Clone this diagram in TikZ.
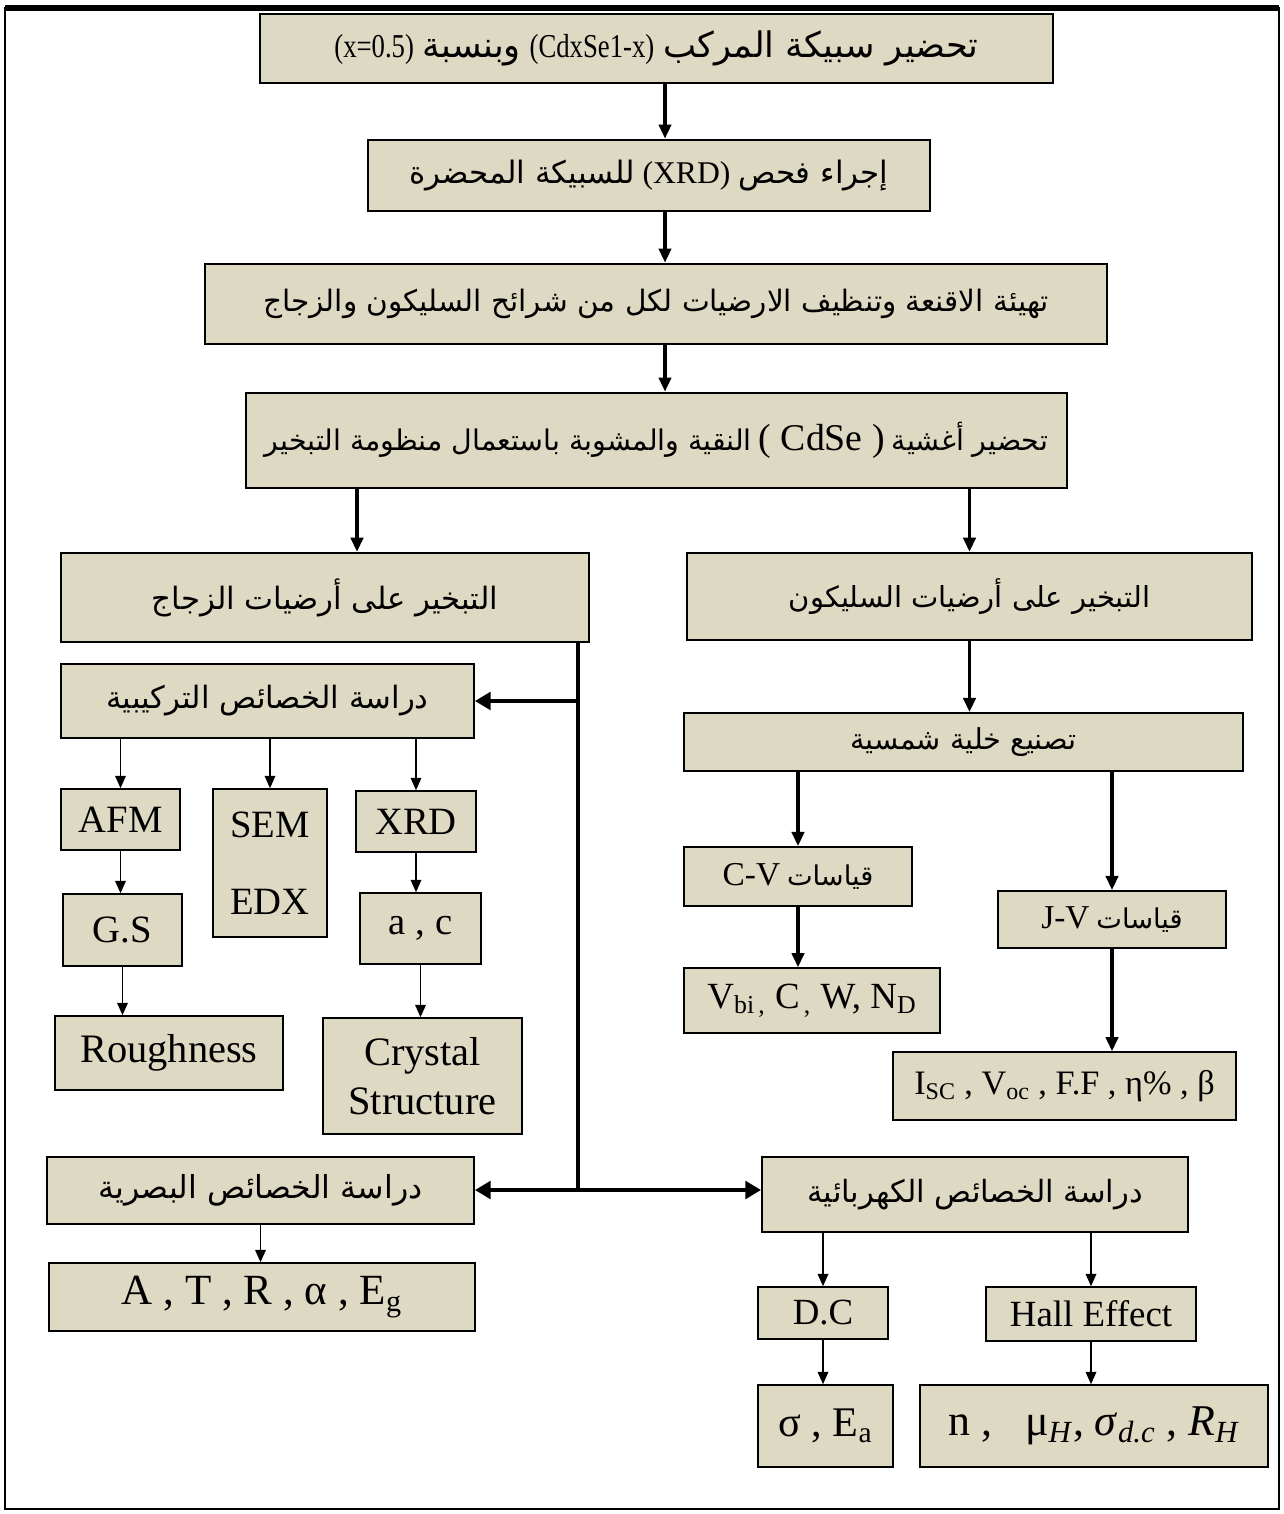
\documentclass[tikz,border=0pt]{standalone}
\usepackage{graphicx}
\usepackage{fontspec}
\setmainfont{Liberation Serif}
\newfontfamily\arabicfont[Script=Arabic]{DejaVu Sans}
\TeXXeTstate=1
\usetikzlibrary{arrows.meta}
\definecolor{boxfill}{RGB}{221,217,195}
\newcommand{\artxt}[1]{{\arabicfont #1}}
\newcommand{\narrow}[1]{\scalebox{0.8}[1]{#1}}

\begin{document}
\begin{tikzpicture}[x=0.02cm, y=-0.02cm, box/.style={rectangle, draw, fill=boxfill, line width=1.1pt, inner sep=0pt, align=center}, bigbox/.style={box, line width=1.6pt}, arbox/.style={box, font=\fontsize{17.5}{21}\selectfont}, latbox/.style={box, line width=0.9pt, font=\fontsize{22}{28}\selectfont}, flow/.style={-{Triangle[length=8pt, width=7pt]}, line width=1.8pt}, subflow/.style={-{Triangle[length=7pt, width=6pt]}, line width=0.9pt}, trunk/.style={line width=2.8pt}, branch/.style={-{Triangle[length=9pt, width=10pt]}, line width=2.8pt}]
	\useasboundingbox (0,0) rectangle (1284,1514);
	\draw[line width=1.6pt] (5,8) rectangle (1279,1509);
	\draw[line width=3pt] (5,8) -- (1279,8);

	% nodes
	\node[bigbox, font=\fontsize{20}{24}\selectfont, minimum width=15.86cm, minimum height=1.38cm] (prep) at (656.5,48.5) {\beginR\artxt{تحضير سبيكة المركب} \beginL{\fontsize{19}{24}\selectfont\narrow{(CdxSe1-x)}}\endL{} \artxt{وبنسبة} \beginL{\fontsize{19}{24}\selectfont\narrow{(x=0.5)}}\endL\endR}; %
	\node[bigbox, font=\fontsize{17.6}{21}\selectfont, minimum width=11.24cm, minimum height=1.42cm] (xrdtest) at (649,175.5) {\beginR\artxt{إجراء فحص} \beginL{\fontsize{18}{21}\selectfont(XRD)}\endL{} \artxt{للسبيكة المحضرة}\endR}; %
	\node[bigbox, font=\fontsize{16.8}{21}\selectfont, minimum width=18.04cm, minimum height=1.6cm] (masks) at (656,304) {\beginR\artxt{تهيئة الاقنعة وتنظيف الارضيات لكل من شرائح السليكون والزجاج}\endR}; %
	\node[bigbox, font=\fontsize{16.2}{21}\selectfont, minimum width=16.42cm, minimum height=1.9cm] (films) at (656.5,440.5) {\beginR\artxt{تحضير أغشية} \beginL{\fontsize{21.5}{24}\selectfont( CdSe )}\endL{} \artxt{النقية والمشوبة باستعمال منظومة التبخير}\endR}; %
	\node[arbox, line width=1.4pt, minimum width=10.56cm, minimum height=1.78cm] (glass) at (325,597.5) {\beginR\artxt{التبخير على أرضيات الزجاج}\endR}; %
	\node[arbox, line width=1.4pt, font=\fontsize{16.5}{21}\selectfont, minimum width=11.3cm, minimum height=1.74cm] (silicon) at (969.5,596.5) {\beginR\artxt{التبخير على أرضيات السليكون}\endR}; %
	\node[arbox, minimum width=8.26cm, minimum height=1.48cm] (struct) at (267.5,701) {\beginR\artxt{دراسة الخصائص التركيبية}\endR}; %
	\node[arbox, font=\fontsize{16.4}{21}\selectfont, minimum width=11.18cm, minimum height=1.16cm] (solar) at (963.5,742) {\beginR\artxt{تصنيع خلية شمسية}\endR}; %
	\node[arbox, font=\fontsize{15.5}{21}\selectfont, minimum width=4.56cm, minimum height=1.18cm] (cv) at (798,876.5) {\beginR\artxt{قياسات} \beginL{\fontsize{19}{21}\selectfont C-V}\endL\endR}; %
	\node[arbox, font=\fontsize{15.5}{21}\selectfont, minimum width=4.56cm, minimum height=1.14cm] (jv) at (1112,919.5) {\beginR\artxt{قياسات} \beginL{\fontsize{19}{21}\selectfont J-V}\endL\endR}; %
	\node[latbox, font=\fontsize{21}{28}\selectfont, minimum width=5.12cm, minimum height=1.3cm] (vbi) at (812,1000.5) {V\textsubscript{bi\,,} C\textsubscript{\,,} W, N\textsubscript{D}}; %
	\node[latbox, font=\fontsize{19.5}{24}\selectfont, minimum width=6.86cm, minimum height=1.36cm] (isc) at (1064.5,1086) {I\textsubscript{SC} , V\textsubscript{oc} , F.F , η\% , β}; %

	\node[latbox, minimum width=2.38cm, minimum height=1.22cm] (afm) at (120.5,819.5) {AFM}; %
	\node[latbox, minimum width=2.28cm, minimum height=2.96cm] (sem) at (270,863) {SEM\\[16pt]EDX}; %
	\node[latbox, minimum width=2.4cm, minimum height=1.22cm] (xrd) at (416,821.5) {XRD}; %
	\node[latbox, minimum width=2.38cm, minimum height=1.44cm] (gs) at (122.5,930) {G.S}; %
	\node[latbox, minimum width=2.42cm, minimum height=1.42cm] (ac) at (420.5,928.5) {a , c}; %
	\node[latbox, font=\fontsize{23}{28}\selectfont, minimum width=4.56cm, minimum height=1.48cm] (rough) at (169,1053) {Roughness}; %
	\node[latbox, font=\fontsize{23}{28}\selectfont, minimum width=3.98cm, minimum height=2.32cm] (crystal) at (422.5,1076) {Crystal\\Structure}; %

	\node[arbox, font=\fontsize{18}{21}\selectfont, minimum width=8.54cm, minimum height=1.34cm] (optic) at (260.5,1190.5) {\beginR\artxt{دراسة الخصائص البصرية}\endR}; %
	\node[latbox, font=\fontsize{24.5}{28}\selectfont, minimum width=8.52cm, minimum height=1.36cm] (atr) at (262,1297) {A , T , R , α , E\textsubscript{g}}; %
	\node[arbox, font=\fontsize{17.4}{21}\selectfont, minimum width=8.52cm, minimum height=1.5cm] (elec) at (975,1194.5) {\beginR\artxt{دراسة الخصائص الكهربائية}\endR}; %
	\node[latbox, font=\fontsize{21}{28}\selectfont, minimum width=2.6cm, minimum height=1.04cm] (dc) at (823,1313) {D.C}; %
	\node[latbox, font=\fontsize{21}{28}\selectfont, minimum width=4.2cm, minimum height=1.08cm] (hall) at (1091,1314) {Hall Effect}; %
	\node[latbox, font=\fontsize{24}{28}\selectfont, minimum width=2.7cm, minimum height=1.64cm] (sigma) at (825.5,1426) {σ , E\textsubscript{a}}; %
	\node[latbox, font=\fontsize{25}{28}\selectfont, minimum width=6.96cm, minimum height=1.64cm] (hallres) at (1094,1426) {n ,\ \ \ μ\textsubscript{\textit{H}},\ \textit{σ}\textsubscript{\textit{d.c}} , \textit{R}\textsubscript{\textit{H}}}; %

	% columns
	\coordinate (maincol) at (665,0); %
	\coordinate (glasscol) at (357,0); %
	\coordinate (split) at (578,1190); %

	% edges
	\draw[flow] (prep.south -| maincol) -- (xrdtest.north -| maincol);
	\draw[flow] (xrdtest.south -| maincol) -- (masks.north -| maincol);
	\draw[flow] (masks.south -| maincol) -- (films.north -| maincol);
	\draw[flow] (films.south -| glasscol) -- (glass.north -| glasscol);
	\draw[flow] (silicon.north |- films.south) -- (silicon.north);
	\draw[flow] (silicon.south) -- (silicon.south |- solar.north);
	\draw[flow] (cv.north |- solar.south) -- (cv.north);
	\draw[flow] (jv.north |- solar.south) -- (jv.north);
	\draw[flow] (cv.south) -- (cv.south |- vbi.north);
	\draw[flow] (jv.south) -- (jv.south |- isc.north);

	\draw[trunk] (glass.south -| split) -- (split);
	\draw[branch] (struct.east -| split) -- (struct.east);
	\draw[branch] (split) -- (split -| optic.east);
	\draw[branch] (split) -- (split -| elec.west);

	\draw[subflow] (struct.south -| afm.north) -- (afm.north);
	\draw[subflow] (struct.south -| sem.north) -- (sem.north);
	\draw[subflow] (struct.south -| xrd.north) -- (xrd.north);
	\draw[subflow] (afm.south) -- (afm.south |- gs.north);
	\draw[subflow] (gs.south) -- (gs.south |- rough.north);
	\draw[subflow] (xrd.south) -- (xrd.south |- ac.north);
	\draw[subflow] (ac.south) -- (ac.south |- crystal.north);
	\draw[subflow] (optic.south) -- (optic.south |- atr.north);
	\draw[subflow] (dc.north |- elec.south) -- (dc.north);
	\draw[subflow] (hall.north |- elec.south) -- (hall.north);
	\draw[subflow] (dc.south) -- (dc.south |- sigma.north);
	\draw[subflow] (hall.south) -- (hall.south |- hallres.north);
\end{tikzpicture}
\end{document}
